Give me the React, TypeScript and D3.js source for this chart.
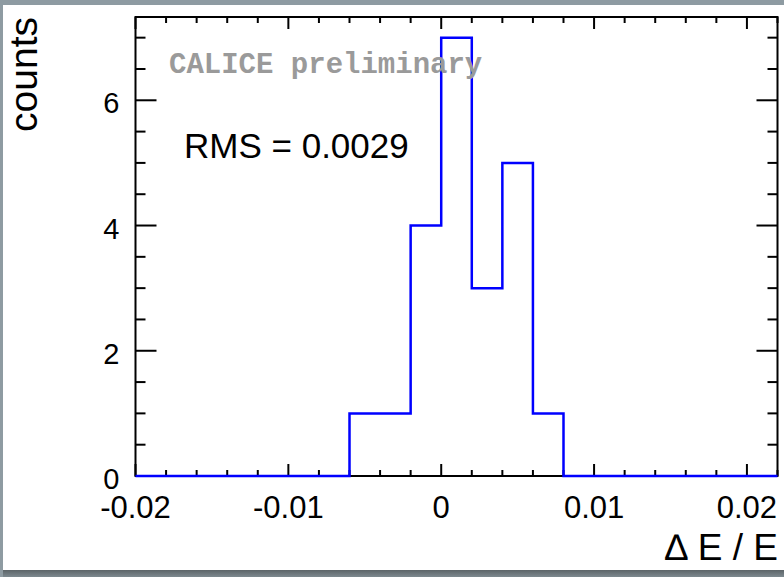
import React from "react";
import * as d3 from "d3";

const binEdgesStart = -0.02;
const binWidth = 0.002;
const counts = [0, 0, 0, 0, 0, 0, 0, 1, 1, 4, 7, 3, 5, 1, 0, 0, 0, 0, 0, 0, 0];
const xTickLabels = ["-0.02", "-0.01", "0", "0.01", "0.02"];
const xTickValues = [-0.02, -0.01, 0, 0.01, 0.02];
const yTickValues = [0, 2, 4, 6];
const yTickLabels = ["0", "2", "4", "6"];
const xDomain = [-0.02, 0.022];
const yDomain = [0, 7.33];

const W = 784;
const H = 577;
const left = 135.5;
const right = 777.5;
const top = 17;
const bottom = 476;

export default function App() {
  const x = d3.scaleLinear().domain(xDomain).range([left, right]);
  const y = d3.scaleLinear().domain(yDomain).range([bottom, top]);

  const pts: [number, number][] = counts.map((c, i) => [binEdgesStart + i * binWidth, c]);
  pts.push([binEdgesStart + counts.length * binWidth, counts[counts.length - 1]]);
  const line = d3
    .line<[number, number]>()
    .x((d) => x(d[0]))
    .y((d) => y(d[1]))
    .curve(d3.curveStepAfter);

  const xMinor = d3.range(-0.02, 0.0221, 0.002).filter((v) => x(v) <= right + 0.1);
  const yMinor = d3.range(0, 7.3, 0.5);
  const font = "'Liberation Sans', Arial, Helvetica, sans-serif";

  return (
    <svg width={W} height={H} style={{ position: "absolute", left: 0, top: 0 }}>
      <defs>
        <linearGradient id="shadow" x1="0" y1="0" x2="0" y2="1">
          <stop offset="0" stopColor="#5c6468" />
          <stop offset="1" stopColor="#7d898f" />
        </linearGradient>
      </defs>
      <rect x={0} y={0} width={W} height={H} fill="#8e9ba2" />
      <rect x={3} y={570} width={W} height={7} fill="url(#shadow)" />
      <rect x={3} y={5} width={W - 3} height={565} fill="#ffffff" />

      {xMinor.map((v, i) => {
        const major = xTickValues.some((t) => Math.abs(t - v) < 1e-9);
        const len = major ? 12 : 6;
        return (
          <g key={"xt" + i}>
            <line x1={x(v)} x2={x(v)} y1={bottom} y2={bottom - len} stroke="#000" strokeWidth={2} />
            <line x1={x(v)} x2={x(v)} y1={top} y2={top + len} stroke="#000" strokeWidth={2} />
          </g>
        );
      })}
      {yMinor.map((v, i) => {
        const major = yTickValues.includes(v);
        const len = major ? 21 : 10;
        return (
          <g key={"yt" + i}>
            <line x1={left} x2={left + len} y1={y(v)} y2={y(v)} stroke="#000" strokeWidth={2} />
            <line x1={right} x2={right - len} y1={y(v)} y2={y(v)} stroke="#000" strokeWidth={2} />
          </g>
        );
      })}
      <rect x={left} y={top} width={right - left} height={bottom - top} fill="none" stroke="#000" strokeWidth={2} />

      <path d={line(pts) || ""} fill="none" stroke="#0000ff" strokeWidth={2.5} />

      {xTickValues.map((v, i) => (
        <text key={"xl" + i} x={x(v)} y={518} textAnchor="middle" fontFamily={font} fontSize={31} fill="#000">
          {xTickLabels[i]}
        </text>
      ))}
      {yTickValues.map((v, i) => (
        <text key={"yl" + i} x={119.5} y={y(v) + 13} textAnchor="end" fontFamily={font} fontSize={29} fill="#000">
          {yTickLabels[i]}
        </text>
      ))}

      <text x={778} y={560} textAnchor="end" fontFamily={font} fontSize={37} fill="#000">
        ∆ E / E
      </text>
      <text transform="translate(37,17) rotate(-90)" textAnchor="end" fontFamily={font} fontSize={39} fill="#000">
        counts
      </text>

      <text x={169} y={73} fontFamily="'Liberation Mono', 'Courier New', monospace" fontWeight="bold" fontSize={29} fill="#9a9a9a">
        CALICE preliminary
      </text>
      <text x={184} y={158} fontFamily={font} fontSize={35} fill="#000">
        RMS = 0.0029
      </text>
    </svg>
  );
}
